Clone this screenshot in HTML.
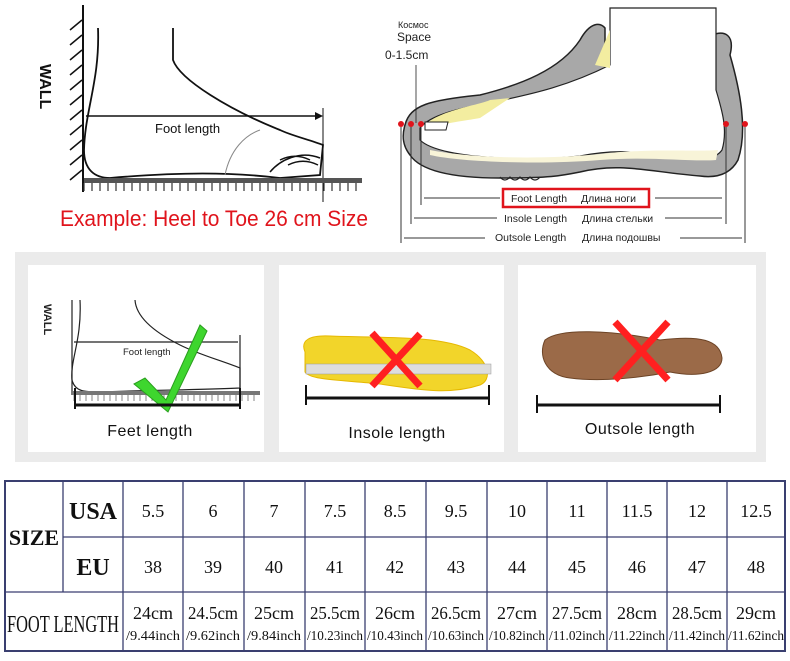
<!DOCTYPE html>
<html><head><meta charset="utf-8"><style>
html,body{margin:0;padding:0;background:#fff;}
svg{display:block;}
.s{font-family:"Liberation Sans",sans-serif;}
.t{font-family:"Liberation Serif",serif;}
</style></head><body>
<svg width="790" height="661" viewBox="0 0 790 661" xmlns="http://www.w3.org/2000/svg">
<rect width="790" height="661" fill="#fff"/>
<g stroke="#111" fill="none" stroke-width="2">
<line x1="83" y1="5" x2="83" y2="192"/>
<g stroke-width="1.5">
<path d="M70 30 l12 -10 M70 45 l12 -10 M70 60 l12 -10 M70 75 l12 -10 M70 90 l12 -10 M70 105 l12 -10 M70 120 l12 -10 M70 135 l12 -10 M70 150 l12 -10 M70 165 l12 -10 M70 180 l12 -10"/>
</g>
<path d="M98 28 C100 80 85 110 84 150 C84 170 95 178 110 178 C180 172 230 172 280 178 L320 175 L323 145 C310 140 290 135 280 130 C230 110 180 80 173 60 L173 28" stroke-width="1.8"/>
<path d="M270 172 C280 160 300 150 320 158 M280 160 c10 -5 20 -5 30 0 M288 165 c10 -5 20 -5 30 0" stroke-width="1.5"/>
<path d="M225 175 C230 150 245 135 260 130" stroke="#888" stroke-width="1"/>
<line x1="323" y1="108" x2="323" y2="202" stroke-width="1"/>
</g>
<line x1="86" y1="116" x2="318" y2="116" stroke="#111" stroke-width="1.5"/>
<path d="M323 116 l-8 -4 v8z" fill="#111"/>
<rect x="84" y="178" width="278" height="5" fill="#555"/>
<path d="M84 183 v8 M92 183 v8 M100 183 v8 M108 183 v8 M116 183 v8 M124 183 v8 M132 183 v8 M140 183 v8 M148 183 v8 M156 183 v8 M164 183 v8 M172 183 v8 M180 183 v8 M188 183 v8 M196 183 v8 M204 183 v8 M212 183 v8 M220 183 v8 M228 183 v8 M236 183 v8 M244 183 v8 M252 183 v8 M260 183 v8 M268 183 v8 M276 183 v8 M284 183 v8 M292 183 v8 M300 183 v8 M308 183 v8 M316 183 v8 M324 183 v8 M332 183 v8 M340 183 v8 M348 183 v8 M356 183 v8" stroke="#333" stroke-width="1.2"/>
<text class="s" x="155" y="133" font-size="13" fill="#111">Foot length</text>
<text class="s" x="0" y="0" font-size="16" font-weight="bold" fill="#111" transform="translate(40,64) rotate(90)">WALL</text>
<text class="s" x="60" y="226" font-size="22" fill="#e0141c" textLength="308" lengthAdjust="spacingAndGlyphs">Example: Heel to Toe 26 cm Size</text>
<!-- shoe -->
<path d="M405 125 C410 105 430 100 480 95 C520 85 560 70 580 40 C590 22 600 22 605 28 L605 60 L712 60 L712 35 C725 30 735 35 730 55 C740 90 748 130 738 160 C730 175 715 178 700 176 C650 172 620 162 580 172 C560 176 550 178 500 178 C450 178 420 170 410 155 C402 145 402 135 405 125Z" fill="#a8a8a8" stroke="#222" stroke-width="1.5"/>
<path d="M420 128 C430 115 460 108 490 103 C520 96 560 90 610 65 L610 8 L716 8 L716 90 C722 110 728 130 722 150 C715 160 700 160 680 158 C630 150 610 150 580 156 C560 158 540 160 500 158 C460 156 430 150 420 140Z" fill="#fff" stroke="#222" stroke-width="1.2"/>
<path d="M425 125 C440 110 480 105 490 100 L510 98 L480 118 C470 120 450 122 428 128Z" fill="#f3eda0"/>
<path d="M595 65 L610 30 L610 68Z" fill="#f3eda0"/>
<path d="M425 122 L448 122 L446 130 L425 130Z" fill="#fff" stroke="#222" stroke-width="1"/>
<path d="M430 150 C470 158 540 160 600 154 C650 148 700 152 718 150 L716 160 C690 162 650 156 600 160 C540 165 460 162 430 155Z" fill="#f8f4d8"/>
<path d="M500 177 q5 6 10 0 q5 6 10 0 q5 6 10 0 q5 6 10 0" fill="none" stroke="#222" stroke-width="1.2"/>
<g fill="#e0141c"><circle cx="401" cy="124" r="3"/><circle cx="411" cy="124" r="3"/><circle cx="421" cy="124" r="3"/><circle cx="726" cy="124" r="3"/><circle cx="745" cy="124" r="3"/></g>
<line x1="416" y1="123" x2="416" y2="65" stroke="#222" stroke-width="0.8"/>
<g stroke="#333" stroke-width="1" fill="none">
<line x1="421" y1="127" x2="421" y2="205"/><line x1="726" y1="127" x2="726" y2="205"/>
<line x1="411" y1="127" x2="411" y2="224"/><line x1="726" y1="205" x2="726" y2="224"/>
<line x1="401" y1="127" x2="401" y2="243"/><line x1="745" y1="127" x2="745" y2="243"/>
<line x1="424" y1="198" x2="500" y2="198"/><line x1="655" y1="198" x2="722" y2="198"/>
<line x1="414" y1="218" x2="497" y2="218"/><line x1="665" y1="218" x2="722" y2="218"/>
<line x1="404" y1="238" x2="485" y2="238"/><line x1="680" y1="238" x2="742" y2="238"/>
</g>
<rect x="503" y="189" width="146" height="18" fill="none" stroke="#e0141c" stroke-width="2.5"/>
<g class="s" font-size="10.5" fill="#222">
<text x="511" y="202">Foot Length</text><text x="581" y="202">Длина ноги</text>
<text x="504" y="222">Insole Length</text><text x="582" y="222">Длина стельки</text>
<text x="495" y="241">Outsole Length</text><text x="582" y="241">Длина подошвы</text>
<text x="398" y="28" font-size="9">Космос</text>
<text x="397" y="41" font-size="12">Space</text>
<text x="385" y="59" font-size="12">0-1.5cm</text>
</g>
<!-- middle band -->
<rect x="15" y="252" width="751" height="210" fill="#ebebeb"/>
<rect x="28" y="265" width="236" height="187" fill="#fff"/>
<rect x="279" y="265" width="225" height="187" fill="#fff"/>
<rect x="518" y="265" width="238" height="187" fill="#fff"/>
<g stroke="#222" fill="none" stroke-width="1.2">
<line x1="72" y1="300" x2="72" y2="395"/>
<path d="M80 300 C82 340 70 360 72 380 C75 392 85 392 100 392 C150 390 200 390 240 388 L240 368 C220 360 200 355 180 345 C150 330 136 315 135 300"/>
<line x1="74" y1="342" x2="238" y2="342"/>
<line x1="240" y1="335" x2="240" y2="400"/>
</g>
<rect x="72" y="391" width="188" height="4" fill="#777"/>
<path d="M74 395 v6 M80 395 v6 M86 395 v6 M92 395 v6 M98 395 v6 M104 395 v6 M110 395 v6 M116 395 v6 M122 395 v6 M128 395 v6 M134 395 v6 M140 395 v6 M146 395 v6 M152 395 v6 M158 395 v6 M164 395 v6 M170 395 v6 M176 395 v6 M182 395 v6 M188 395 v6 M194 395 v6 M200 395 v6 M206 395 v6 M212 395 v6 M218 395 v6 M224 395 v6 M230 395 v6 M236 395 v6 M242 395 v6 M248 395 v6 M254 395 v6" stroke="#666" stroke-width="0.8"/>
<text class="s" x="123" y="355" font-size="9.5" fill="#222">Foot length</text>
<text class="s" font-size="11" font-weight="bold" fill="#222" transform="translate(44,304) rotate(90)">WALL</text>
<polygon points="134,384 145,378 166,400 200,325 207,331 168,412" fill="#3ed62e" stroke="#2a9e1e" stroke-width="1"/>
<path d="M75 388 v21 M240 388 v21" stroke="#111" stroke-width="2"/>
<line x1="75" y1="405" x2="240" y2="405" stroke="#111" stroke-width="3"/>
<text class="s" x="150" y="436" font-size="16" text-anchor="middle" fill="#111" letter-spacing="0.5">Feet length</text>
<path d="M305 352 C300 340 310 335 330 336 C380 338 440 335 470 350 C490 362 492 380 480 385 C450 395 420 390 380 384 C340 380 310 380 305 372Z" fill="#f2d52a" stroke="#e6b800"/>
<rect x="306" y="364" width="185" height="10" fill="#ddd" stroke="#999" stroke-width="0.5"/>
<path d="M372 333 L420 386 M420 334 L372 386" stroke="#ff2020" stroke-width="7"/>
<path d="M306 385 v20 M489 385 v20" stroke="#111" stroke-width="2"/>
<line x1="306" y1="398" x2="489" y2="398" stroke="#111" stroke-width="3"/>
<text class="s" x="397" y="438" font-size="16" text-anchor="middle" fill="#111" letter-spacing="0.5">Insole length</text>
<path d="M545 340 C560 328 610 330 660 340 C700 335 720 340 722 358 C722 372 700 378 670 372 C640 378 600 382 570 378 C545 375 538 355 545 340Z" fill="#9b6a48" stroke="#6d4426"/>
<path d="M615 322 L668 380 M668 322 L615 380" stroke="#ff2020" stroke-width="7"/>
<path d="M537 395 v18 M720 395 v18" stroke="#111" stroke-width="2"/>
<line x1="537" y1="405" x2="720" y2="405" stroke="#111" stroke-width="3"/>
<text class="s" x="640" y="434" font-size="16" text-anchor="middle" fill="#111" letter-spacing="0.5">Outsole length</text>
<!-- table -->
<g stroke="#3a3f70" stroke-width="1.3" fill="none">
<rect x="5" y="481" width="780" height="170" stroke-width="2"/>
<line x1="63" y1="481" x2="63" y2="592"/>
<line x1="63" y1="537" x2="785" y2="537"/>
<line x1="5" y1="592" x2="785" y2="592"/>
<line x1="123" y1="481" x2="123" y2="651"/>
<line x1="183" y1="481" x2="183" y2="651"/><line x1="244" y1="481" x2="244" y2="651"/>
<line x1="305" y1="481" x2="305" y2="651"/><line x1="365" y1="481" x2="365" y2="651"/>
<line x1="426" y1="481" x2="426" y2="651"/><line x1="487" y1="481" x2="487" y2="651"/>
<line x1="547" y1="481" x2="547" y2="651"/><line x1="607" y1="481" x2="607" y2="651"/>
<line x1="667" y1="481" x2="667" y2="651"/><line x1="727" y1="481" x2="727" y2="651"/>
</g>
<g class="t" fill="#111" text-anchor="middle">
<text x="34" y="545" font-size="22" font-weight="bold">SIZE</text>
<text x="93" y="519" font-size="24" font-weight="bold">USA</text>
<text x="93" y="575" font-size="24" font-weight="bold">EU</text>
<text x="63" y="632" font-size="24" textLength="112" lengthAdjust="spacingAndGlyphs">FOOT  LENGTH</text>
<g font-size="18">
<text x="153" y="517">5.5</text><text x="213" y="517">6</text><text x="274" y="517">7</text><text x="335" y="517">7.5</text><text x="395" y="517">8.5</text><text x="456" y="517">9.5</text><text x="517" y="517">10</text><text x="577" y="517">11</text><text x="637" y="517">11.5</text><text x="697" y="517">12</text><text x="756" y="517">12.5</text>
<text x="153" y="573">38</text><text x="213" y="573">39</text><text x="274" y="573">40</text><text x="335" y="573">41</text><text x="395" y="573">42</text><text x="456" y="573">43</text><text x="517" y="573">44</text><text x="577" y="573">45</text><text x="637" y="573">46</text><text x="697" y="573">47</text><text x="756" y="573">48</text>
</g>
<g font-size="18">
<text x="153" y="619" textLength="40" lengthAdjust="spacingAndGlyphs">24cm</text><text x="213" y="619" textLength="50" lengthAdjust="spacingAndGlyphs">24.5cm</text><text x="274" y="619" textLength="40" lengthAdjust="spacingAndGlyphs">25cm</text><text x="335" y="619" textLength="50" lengthAdjust="spacingAndGlyphs">25.5cm</text><text x="395" y="619" textLength="40" lengthAdjust="spacingAndGlyphs">26cm</text><text x="456" y="619" textLength="50" lengthAdjust="spacingAndGlyphs">26.5cm</text><text x="517" y="619" textLength="40" lengthAdjust="spacingAndGlyphs">27cm</text><text x="577" y="619" textLength="50" lengthAdjust="spacingAndGlyphs">27.5cm</text><text x="637" y="619" textLength="40" lengthAdjust="spacingAndGlyphs">28cm</text><text x="697" y="619" textLength="50" lengthAdjust="spacingAndGlyphs">28.5cm</text><text x="756" y="619" textLength="40" lengthAdjust="spacingAndGlyphs">29cm</text>
</g>
<g font-size="14">
<text x="153" y="640" textLength="54" lengthAdjust="spacingAndGlyphs">/9.44inch</text><text x="213" y="640" textLength="54" lengthAdjust="spacingAndGlyphs">/9.62inch</text><text x="274" y="640" textLength="54" lengthAdjust="spacingAndGlyphs">/9.84inch</text><text x="335" y="640" textLength="56" lengthAdjust="spacingAndGlyphs">/10.23inch</text><text x="395" y="640" textLength="56" lengthAdjust="spacingAndGlyphs">/10.43inch</text><text x="456" y="640" textLength="56" lengthAdjust="spacingAndGlyphs">/10.63inch</text><text x="517" y="640" textLength="56" lengthAdjust="spacingAndGlyphs">/10.82inch</text><text x="577" y="640" textLength="56" lengthAdjust="spacingAndGlyphs">/11.02inch</text><text x="637" y="640" textLength="56" lengthAdjust="spacingAndGlyphs">/11.22inch</text><text x="697" y="640" textLength="56" lengthAdjust="spacingAndGlyphs">/11.42inch</text><text x="756" y="640" textLength="56" lengthAdjust="spacingAndGlyphs">/11.62inch</text>
</g>
</g>
</svg>
</body></html>
